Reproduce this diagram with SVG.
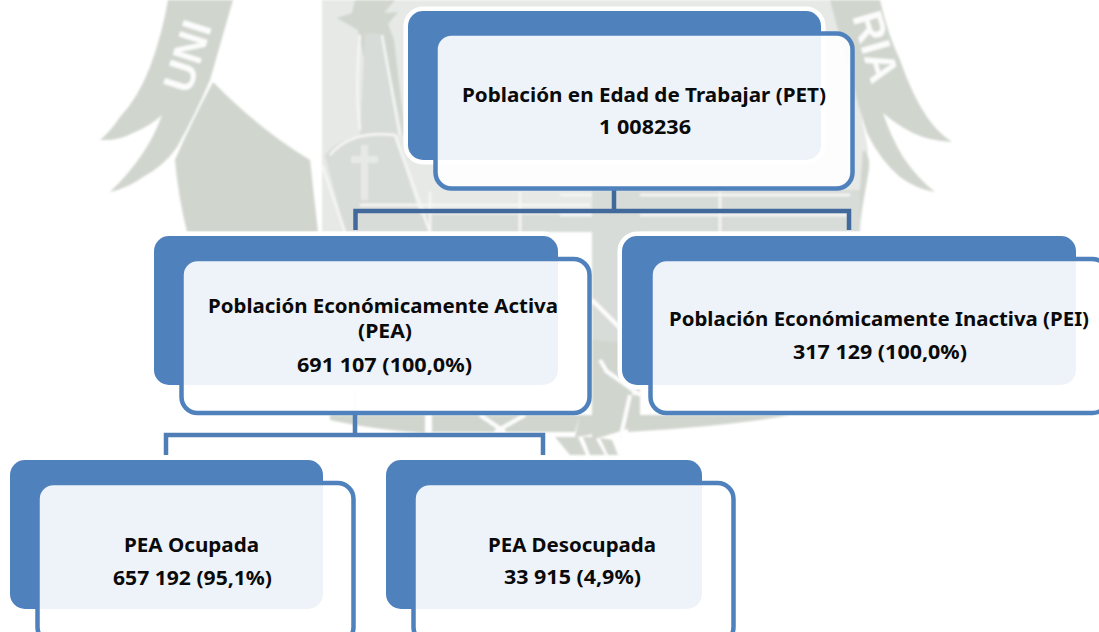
<svg xmlns="http://www.w3.org/2000/svg" width="1099" height="632" viewBox="0 0 1099 632">
<style>
.wm{fill:#d0d5ce}
.wl{fill:#e6e9e6}
.wn{fill:#d8dcd8}
.gap{fill:none;stroke:#f6f7f6;stroke-width:2.500}
.gw{fill:none;stroke:#fdfdfd;stroke-width:4}
.halo{fill:none;stroke:#fff;stroke-width:9}
.back{fill:#4f81bd}
.front{fill:#fff;fill-opacity:.9;stroke:#4f81bd;stroke-width:4.500}
.c1{fill:none;stroke:#41699b;stroke-width:4.500}
.c2{fill:none;stroke:#4f7db5;stroke-width:4.500}
.f{fill:none;stroke:#e6ecf5;stroke-width:4.500}
.l{font-family:"Noto Sans","DejaVu Sans",sans-serif;font-weight:700;font-size:19.500px;fill:#0a0a0a;text-anchor:middle}
.wt{font-family:"Liberation Sans",sans-serif;font-weight:700;fill:#fbfcfb}
</style>
<defs><filter id="s" x="-5%" y="-5%" width="110%" height="110%"><feGaussianBlur stdDeviation="0.9"/></filter></defs>
<rect width="1099" height="632" fill="#fff"/>
<g id="watermark" filter="url(#s)">
<path class="wm" d="M168 0Q162 35 150 67Q138 98 120 117Q110 132 100 140Q118 141 133 133Q150 126 162 115Q155 135 143 153Q128 175 110 192Q128 188 143 177Q165 165 177 147Q195 115 210 80L233 0Z"/>
<path class="wm" d="M213 82Q260 130 310 160L318 232H187Q178 195 175 160Q190 125 213 82Z"/>
<path class="wl" d="M322 0H730L840 0L868 150L860 232H322Z"/>
<path class="wm" d="M880 0Q888 35 900 60Q912 95 927 117Q938 133 952 142Q930 141 913 133Q897 125 883 113Q890 135 903 157Q917 178 935 192Q916 189 900 177Q880 160 867 133L857 100L830 0Z"/>
<path class="wm" d="M863 150Q872 155 868 175L858 232H700L700 190H860Z"/>
<path class="wn" d="M640 190H860V232H640ZM360 215H640V232H360Z"/>
<path class="wm" d="M355 0H395L384 13L398 12L388 24L394 40L405 135H380L358 30L337 18L352 13Z"/>
<path class="wn" d="M365 35Q375 30 380 35L405 135H360Z"/>
<path class="wn" d="M325 155Q345 130 395 135L425 232H345Z"/>
<path class="wl" d="M361 145H368V156H378V163H368V200H361V163H351V156H361Z"/>
<path class="gap" d="M360 35Q355 90 360 130M382 35L400 135M330 155Q350 130 395 135L430 232M322 165L345 232"/>
<path class="gap" d="M430 192V232M520 192V232M720 192V232M560 195H850M560 215H850M360 205H590"/>
<path class="wn" d="M592 190H640V300H592Z"/>
<path class="wm" d="M592 340H640V425L592 440Z"/>
<path class="wn" d="M592 232H640V345L592 340Z"/>
<path class="gw" d="M592 300L622 330M600 360L606 370M625 368L635 395M605 370L640 395M630 395L620 440"/>
<path class="wm" d="M330 415H425V433Q375 430 330 420ZM432 415H580L575 432H432ZM580 415H620Q605 435 575 437ZM628 415H790Q740 425 628 432Z"/>
<path class="wm" d="M555 437L578 437L586 455H570ZM583 437L595 437L605 455H590ZM600 438L612 440L618 455H608Z"/>
<path class="gw" d="M480 415L505 432M525 415L495 432"/>
<text class="wt" style="font-size:42px" transform="translate(190 95) rotate(-72)">UNI</text>
<text class="wt" style="font-size:42px" transform="translate(852 16) rotate(74)">RIA</text>
</g>
<g id="connectors">
<path class="f" d="M614 165V188M355 390V413"/>
<path class="c1" d="M614 188V211M355.500 230V211H849V230"/>
<path class="c2" d="M355 413V435M166 455V435H543V455"/>
</g>
<g id="node-pet">
<rect class="halo" x="408" y="11" width="413" height="149" rx="15"/>
<rect class="back" x="408" y="11" width="413" height="149" rx="15"/>
<rect class="front" x="435.500" y="33.500" width="417" height="155" rx="16"/>
<text class="l" x="644" y="102" textLength="364" lengthAdjust="spacingAndGlyphs">Población en Edad de Trabajar (PET)</text>
<text class="l" x="645" y="134" textLength="92" lengthAdjust="spacingAndGlyphs">1 008236</text>
</g>
<g id="node-pea">
<rect class="halo" x="154" y="236" width="404" height="149" rx="15"/>
<rect class="back" x="154" y="236" width="404" height="149" rx="15"/>
<rect class="front" x="181.500" y="259" width="408" height="154" rx="16"/>
<text class="l" x="383" y="313" textLength="350" lengthAdjust="spacingAndGlyphs">Población Económicamente Activa</text>
<text class="l" x="385" y="338" textLength="54" lengthAdjust="spacingAndGlyphs">(PEA)</text>
<text class="l" x="384.500" y="372" textLength="175" lengthAdjust="spacingAndGlyphs">691 107 (100,0%)</text>
</g>
<g id="node-pei">
<rect class="halo" x="622" y="236" width="454" height="149" rx="15"/>
<rect class="back" x="622" y="236" width="454" height="149" rx="15"/>
<rect class="front" x="650.500" y="259" width="458" height="154" rx="16"/>
<text class="l" x="879" y="326" textLength="420" lengthAdjust="spacingAndGlyphs">Población Económicamente Inactiva (PEI)</text>
<text class="l" x="880" y="359" textLength="174" lengthAdjust="spacingAndGlyphs">317 129 (100,0%)</text>
</g>
<g id="node-ocupada">
<rect class="back" x="10" y="460" width="313" height="149" rx="15"/>
<rect class="front" x="37.500" y="483" width="316" height="160" rx="16"/>
<text class="l" x="191.500" y="552" textLength="135" lengthAdjust="spacingAndGlyphs">PEA Ocupada</text>
<text class="l" x="192.500" y="585" textLength="159" lengthAdjust="spacingAndGlyphs">657 192 (95,1%)</text>
</g>
<g id="node-desocupada">
<rect class="back" x="386" y="460" width="316" height="149" rx="15"/>
<rect class="front" x="413.500" y="483" width="320" height="160" rx="16"/>
<text class="l" x="572" y="552" textLength="168" lengthAdjust="spacingAndGlyphs">PEA Desocupada</text>
<text class="l" x="572.500" y="584" textLength="137" lengthAdjust="spacingAndGlyphs">33 915 (4,9%)</text>
</g>
</svg>
